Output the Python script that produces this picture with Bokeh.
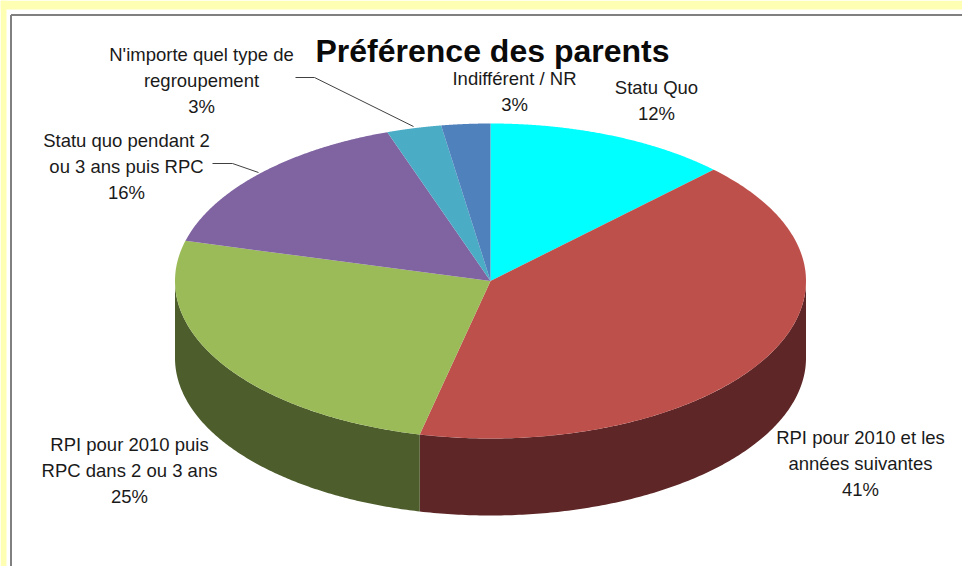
import numpy as np
from bokeh.plotting import figure
from bokeh.models import GlobalInlineStyleSheet
from bokeh.core.properties import value
from bokeh.embed import file_html
from bokeh.resources import INLINE

title = "Préférence des parents"
categories = ["Statu Quo", "RPI pour 2010 et les années suivantes", "RPI pour 2010 puis RPC dans 2 ou 3 ans",
              "Statu quo pendant 2 ou 3 ans puis RPC", "N'importe quel type de regroupement", "Indifférent / NR"]
shares = [12.5, 41.1, 25.5, 15.6, 2.8, 2.5]
colors = ["#00FFFF", "#BE504C", "#9BBB59", "#8064A2", "#4BACC6", "#4F81BD"]
side_colors = ["#009999", "#5E2626", "#4D5D2C", "#403251", "#265663", "#28405E"]
label_lines = [["Statu Quo", "12%"],
               ["RPI pour 2010 et les", "années suivantes", "41%"],
               ["RPI pour 2010 puis", "RPC dans 2 ou 3 ans", "25%"],
               ["Statu quo pendant 2", "ou 3 ans puis RPC", "16%"],
               ["N'importe quel type de", "regroupement", "3%"],
               ["Indifférent / NR", "3%"]]
label_cx = [656, 860, 129, 126, 201, 514]
label_top = [87, 437, 444, 140, 54, 78]
leaders = [((212, 232, 258), (163, 163, 172)), ((295, 314, 413), (77, 77, 126))]

W, H = 962, 566
CX, CY, RX, RY, DEPTH = 490, 280.5, 315.5, 157.5, 77
LINE = 26

p = figure(width=W, height=H, x_range=(0, W), y_range=(H, 0), toolbar_location=None,
           output_backend="svg", min_border=0, outline_line_color=None, background_fill_color="white")
p.xaxis.visible = False
p.yaxis.visible = False
p.grid.visible = False
p.stylesheets = [GlobalInlineStyleSheet(css="html,body{margin:0;padding:0;background:#fff;overflow:hidden}")]

# page frame
p.quad(left=0, right=W, top=0, bottom=9, fill_color="#FFFFB4", line_color=None)
p.quad(left=0, right=6, top=0, bottom=H, fill_color="#FFFFB4", line_color=None)
p.segment(x0=[10.5, 10.5], y0=[14.5, 14.5], x1=[W, 10.5], y1=[14.5, H], line_color="#808080", line_width=2)

edges = np.cumsum([0] + shares) / sum(shares) * 2 * np.pi

# side walls (only the front half of the disc shows)
for i in range(len(shares)):
    a, b = max(edges[i], np.pi / 2), min(edges[i + 1], 3 * np.pi / 2)
    if b <= a:
        continue
    t = np.linspace(a, b, 160)
    x = CX + RX * np.sin(t)
    y = CY - RY * np.cos(t)
    p.patch(np.r_[x, x[::-1]], np.r_[y, y[::-1] + DEPTH], fill_color=side_colors[i], line_color=None)

# top face
for i in range(len(shares)):
    t = np.linspace(edges[i], edges[i + 1], 200)
    x = np.r_[CX, CX + RX * np.sin(t)]
    y = np.r_[CY, CY - RY * np.cos(t)]
    p.patch(x, y, fill_color=colors[i], line_color=None)

for xs, ys in leaders:
    p.line(list(xs), list(ys), line_color="#404040", line_width=1)

for lines, cx, top in zip(label_lines, label_cx, label_top):
    ys = [top + LINE * k for k in range(len(lines))]
    p.text(x=[cx] * len(lines), y=ys, text=lines, text_align="center", text_baseline="middle",
           text_font=value("Liberation Sans"), text_font_size="18.5px", text_color="#1A1A1A")

p.text(x=[492], y=[50], text=[title], text_align="center", text_baseline="middle",
       text_font=value("Liberation Sans"), text_font_style="bold", text_font_size="32px", text_color="#0A0A0A")

open("out.html", "w").write(file_html(p, INLINE))
